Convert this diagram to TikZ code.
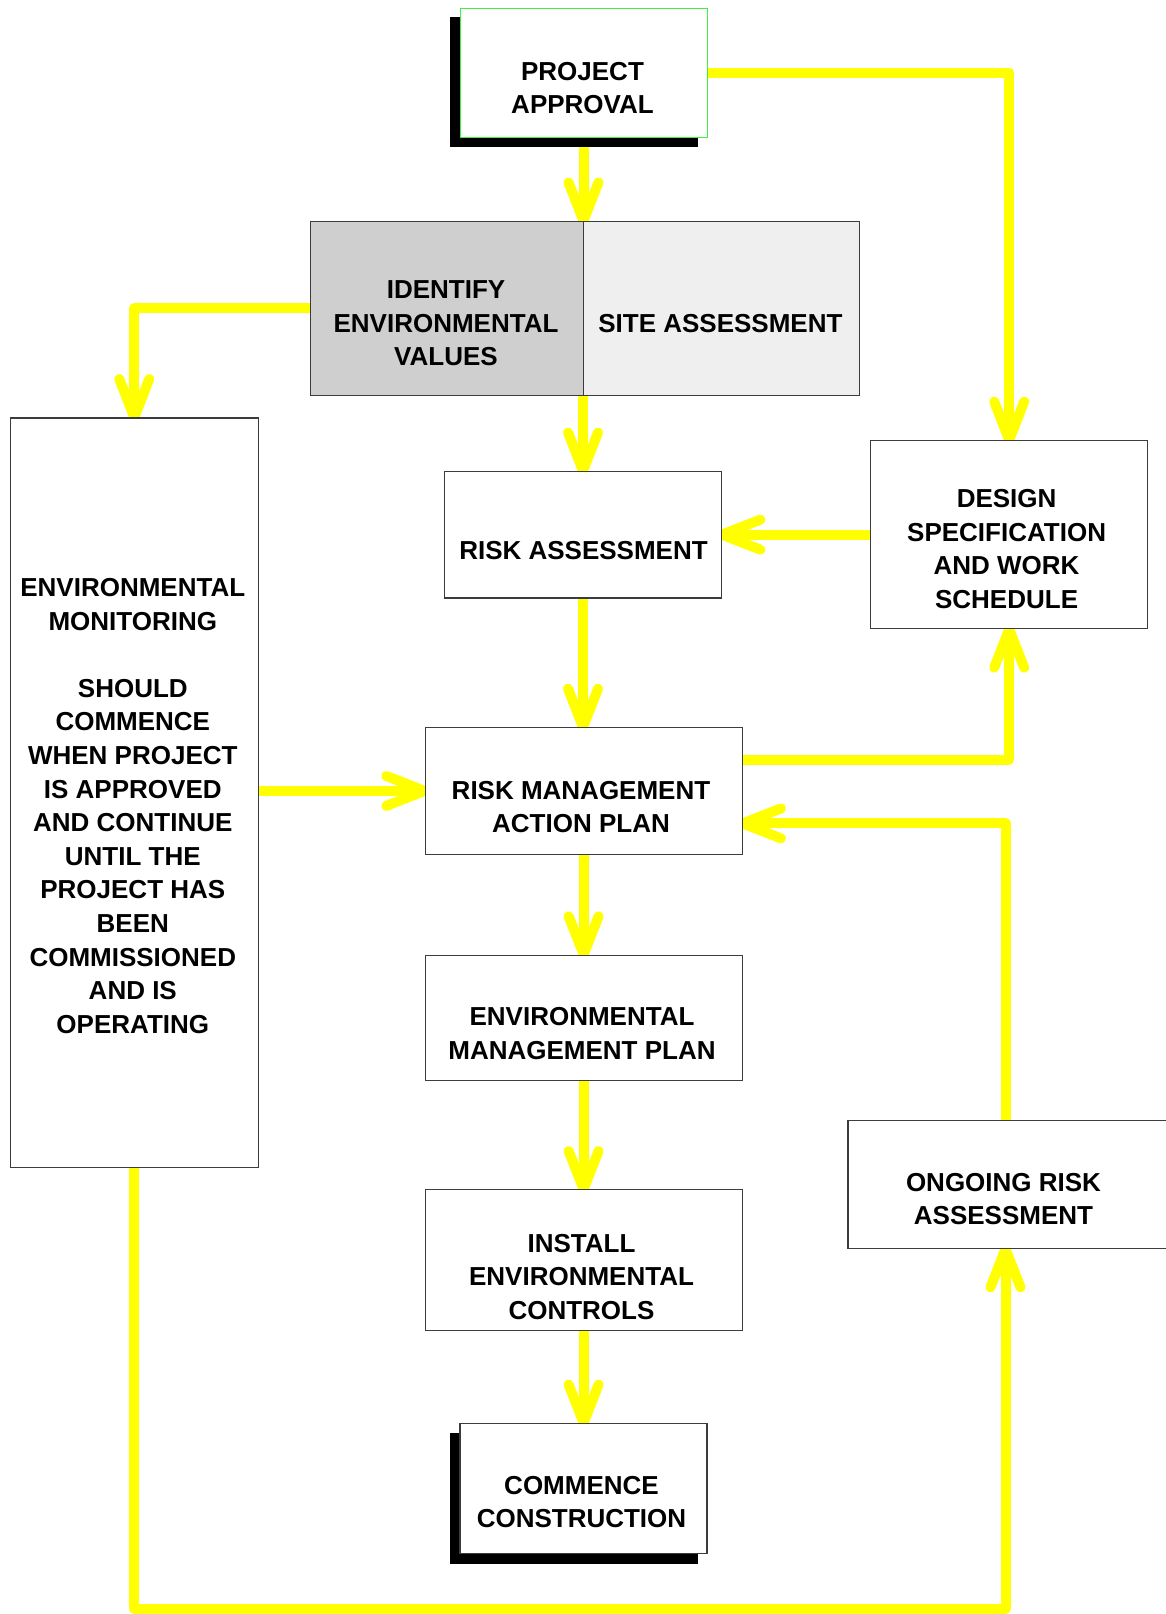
\documentclass[tikz,border=0pt]{standalone}
\usepackage{fontspec}
\setmainfont{Liberation Sans}
\usetikzlibrary{calc}
\pgfdeclarelayer{connlayer}
\pgfdeclarelayer{shadlayer}
\pgfsetlayers{connlayer,shadlayer,main}
\pgfdeclarearrow{
  name = YBarb,
  setup code = {
    \pgfarrowssettipend{0pt}
    \pgfarrowssetlineend{-5pt}
    \pgfarrowssetvisualbackend{-43pt}
    \pgfarrowssetbackend{-43pt}
    \pgfarrowshullpoint{0pt}{0pt}
    \pgfarrowshullpoint{-43pt}{20pt}
    \pgfarrowshullpoint{-43pt}{-20pt}
  },
  drawing code = {
    \pgfsetroundcap
    \pgfsetroundjoin
    \pgfpathmoveto{\pgfqpoint{-38.3pt}{15pt}}
    \pgfpathlineto{\pgfqpoint{0pt}{0pt}}
    \pgfpathlineto{\pgfqpoint{-38.3pt}{-15pt}}
    \pgfusepathqstroke
  }
}
\definecolor{arrowyellow}{RGB}{255,255,0}
\definecolor{boxline}{RGB}{60,60,60}
\definecolor{greenline}{RGB}{60,240,60}
\definecolor{darkfill}{RGB}{207,207,207}
\definecolor{lightfill}{RGB}{239,239,239}
\tikzset{
  box/.style={draw=boxline, line width=1.2pt, fill=white, rectangle, inner sep=0pt},
  txt/.style={font=\fontsize{26}{33.6}\selectfont\bfseries, align=center, inner sep=0pt},
  conn/.style={draw=arrowyellow, line width=10pt, line join=round, line cap=round, -YBarb},
  shade/.style={fill=black},
}
\begin{document}
\begin{tikzpicture}[x=1pt,y=-1pt]
\useasboundingbox (0,0) rectangle (1165,1614);

% boxes
\node[box, draw=greenline, line width=1pt, minimum width=247pt, minimum height=129pt] (pa) at (583.5,72.5) {};
\node[box, fill=darkfill, minimum width=272.8pt, minimum height=173.9pt] (iv) at (447.2,308.25) {};
\node[box, fill=lightfill, minimum width=275.8pt, minimum height=173.9pt] (sa) at (721.5,308.25) {};
\node[box, minimum width=248pt, minimum height=749.2pt] (em) at (134.3,792.5) {};
\node[box, minimum width=276.9pt, minimum height=126.6pt] (ra) at (583,534.7) {};
\node[box, minimum width=276.9pt, minimum height=188.3pt] (ds) at (1009.2,534.65) {};
\node[box, minimum width=317pt, minimum height=126.6pt] (rm) at (583.6,790.9) {};
\node[box, minimum width=317pt, minimum height=125.6pt] (emp) at (583.6,1017.9) {};
\node[box, minimum width=317pt, minimum height=141pt] (ic) at (583.6,1260.3) {};
\node[box, minimum width=247pt, minimum height=129.7pt] (cc) at (583.5,1488.25) {};
\node[box, minimum width=320pt, minimum height=127.6pt] (or) at (1008,1184.6) {};

% texts
\node[txt] (pa-t) at (582.5,88) {PROJECT\\APPROVAL};
\node[txt] (iv-t) at (446,323.2) {IDENTIFY\\ENVIRONMENTAL\\VALUES};
\node[txt] (sa-t) at (720.4,323.2) {SITE ASSESSMENT};
\node[txt] (em-t) at (132.8,805.9) {ENVIRONMENTAL\\MONITORING\\\mbox{}\\SHOULD\\COMMENCE\\WHEN PROJECT\\IS APPROVED\\AND CONTINUE\\UNTIL THE\\PROJECT HAS\\BEEN\\COMMISSIONED\\AND IS\\OPERATING};
\node[txt] (ra-t) at (583.5,550.6) {RISK ASSESSMENT};
\node[txt] (ds-t) at (1006.6,549.1) {DESIGN\\SPECIFICATION\\AND WORK\\SCHEDULE};
\node[txt] (rm-t) at (581,806.9) {RISK MANAGEMENT\\ACTION PLAN};
\node[txt] (emp-t) at (582,1033.3) {ENVIRONMENTAL\\MANAGEMENT PLAN};
\node[txt] (ic-t) at (581.5,1276.7) {INSTALL\\ENVIRONMENTAL\\CONTROLS};
\node[txt] (cc-t) at (581.5,1502.1) {COMMENCE\\CONSTRUCTION};
\node[txt] (or-t) at (1003.5,1199) {ONGOING RISK\\ASSESSMENT};

% shadows
\begin{pgfonlayer}{shadlayer}
\fill[shade] ([shift={(-9.5pt,-9.5pt)}]pa.south west) rectangle ([shift={(-9.5pt,-9.5pt)}]pa.north east);
\fill[shade] ([shift={(-9.5pt,-10pt)}]cc.south west) rectangle ([shift={(-9.5pt,-10pt)}]cc.north east);
\end{pgfonlayer}

% connectors
\begin{pgfonlayer}{connlayer}
\coordinate (bot) at (0,1609);
\coordinate (orn) at ([xshift=-2.5pt]or.north);
\coordinate (ors) at ([xshift=-2.5pt]or.south);
\draw[conn] (pa.south) -- (pa.south |- iv.north);
\draw[conn] (pa.east) -| (ds.north);
\draw[conn] (iv.west) -| (em.north);
\draw[conn] (ra.north |- iv.south) -- (ra.north);
\draw[conn] (ds.west) -- (ds.west -| ra.east);
\draw[conn] (ra.south) -- (ra.south |- rm.north);
\draw[conn] ([yshift=31.4pt]rm.east) -| (ds.south);
\draw[conn] (em.east |- rm.west) -- (rm.west);
\draw[conn] (orn) |- ([yshift=-32.5pt]rm.east);
\draw[conn] (rm.south) -- (rm.south |- emp.north);
\draw[conn] (emp.south) -- (emp.south |- ic.north);
\draw[conn] (ic.south) -- (ic.south |- cc.north);
\draw[conn] (em.south) -- (em.south |- bot) -- (ors |- bot) -- (ors);
\end{pgfonlayer}
\end{tikzpicture}
\end{document}
